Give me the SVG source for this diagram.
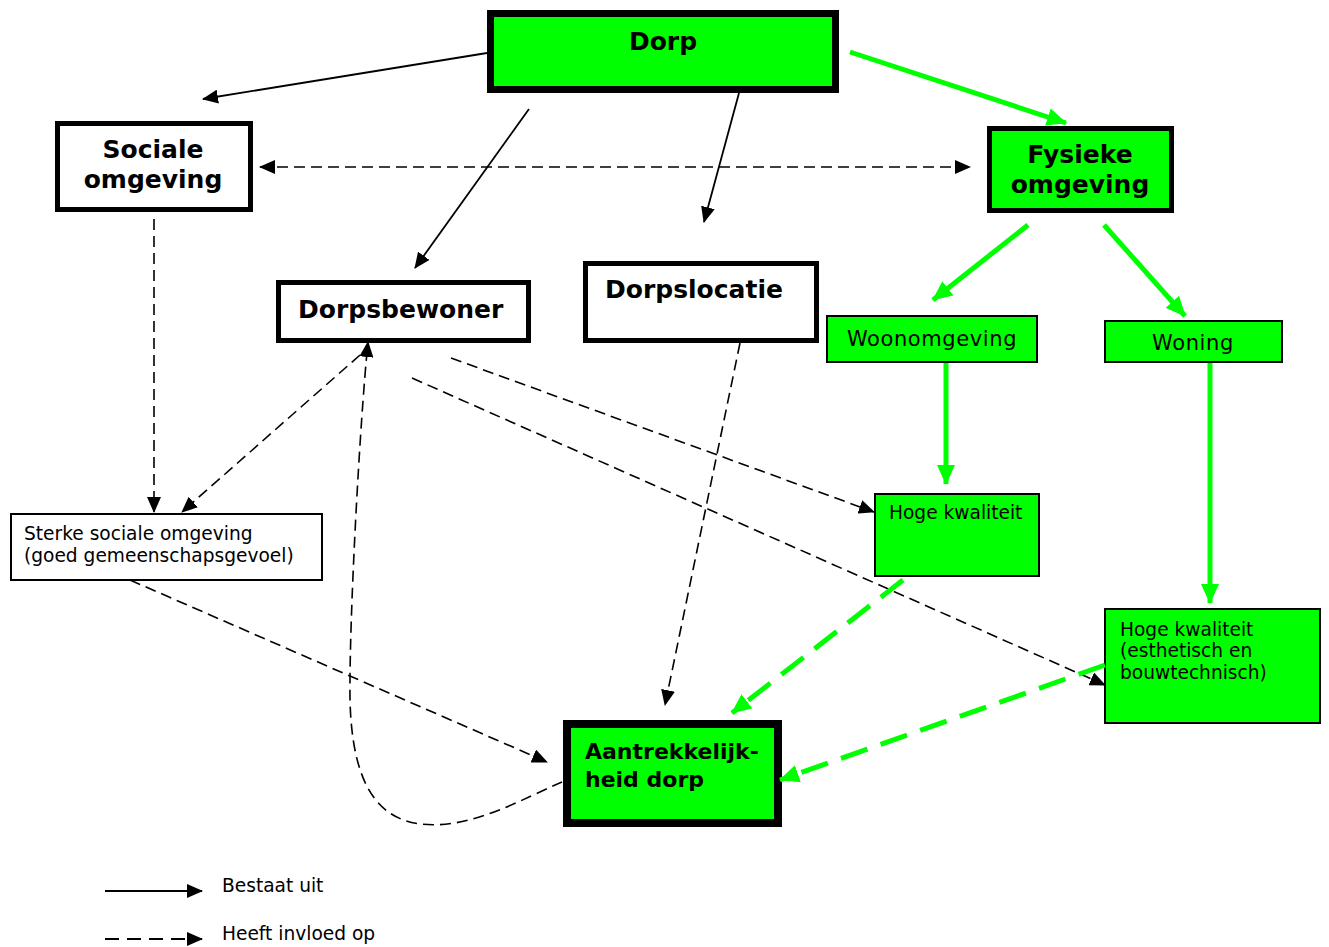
<svg xmlns="http://www.w3.org/2000/svg" width="1329" height="947" viewBox="0 0 1329 947">
<style>
.bg{fill:#ffffff}
.g{fill:#00ff00}
.w{fill:#ffffff}
.box{stroke:#000000}
.t{font-family:"DejaVu Sans","Liberation Sans",sans-serif;fill:#000000}
.h{font-weight:bold;font-size:25px}
.hs{font-weight:bold;font-size:22px}
.r{font-size:18.6px}
.rl{font-size:21px;letter-spacing:0.6px}
.solid{stroke:#000000;stroke-width:1.8;fill:none}
.dash{stroke:#000000;stroke-width:1.6;fill:none;stroke-dasharray:11 6}
.ldash{stroke:#000000;stroke-width:2;fill:none;stroke-dasharray:14 8}
.gs{stroke:#00ff00;stroke-width:5;fill:none}
.gd{stroke:#00ff00;stroke-width:5;fill:none;stroke-dasharray:28 14}
</style>
<defs>
<marker id="ab" markerUnits="userSpaceOnUse" markerWidth="16" markerHeight="14" refX="15" refY="7" orient="auto-start-reverse" viewBox="0 0 16 14">
<path d="M0,0 L16,7 L0,14 z" fill="#000000"/>
</marker>
<marker id="ag" markerUnits="userSpaceOnUse" markerWidth="20" markerHeight="18" refX="19" refY="9" orient="auto" viewBox="0 0 20 18">
<path d="M0,0 L20,9 L0,18 z" fill="#00ff00"/>
</marker>
</defs>
<rect class="bg" x="0" y="0" width="1329" height="947"/>

<g id="node-dorp">
<rect class="g box" x="490.5" y="13.5" width="345" height="76" stroke-width="7"/>
<text class="t h" x="663" y="50" text-anchor="middle">Dorp</text>
</g>
<g id="node-sociale">
<rect class="w box" x="57.5" y="123.5" width="193" height="86" stroke-width="5"/>
<text class="t h" x="153" y="158" text-anchor="middle">Sociale</text>
<text class="t h" x="153" y="188" text-anchor="middle">omgeving</text>
</g>
<g id="node-fysieke">
<rect class="g box" x="989.5" y="128.5" width="182" height="82" stroke-width="5"/>
<text class="t h" x="1080" y="163" text-anchor="middle">Fysieke</text>
<text class="t h" x="1080" y="193" text-anchor="middle">omgeving</text>
</g>
<g id="node-dorpsbewoner">
<rect class="w box" x="278.5" y="282.5" width="250" height="58" stroke-width="5"/>
<text class="t h" x="298" y="318">Dorpsbewoner</text>
</g>
<g id="node-dorpslocatie">
<rect class="w box" x="585.5" y="263.5" width="231" height="77" stroke-width="5"/>
<text class="t h" x="605" y="298">Dorpslocatie</text>
</g>
<g id="node-woonomgeving">
<rect class="g box" x="827" y="316" width="210" height="46" stroke-width="2"/>
<text class="t rl" x="932" y="346" text-anchor="middle">Woonomgeving</text>
</g>
<g id="node-woning">
<rect class="g box" x="1105" y="321" width="177" height="41" stroke-width="2"/>
<text class="t rl" x="1193" y="350" text-anchor="middle">Woning</text>
</g>
<g id="node-sterke">
<rect class="w box" x="11" y="514" width="311" height="66" stroke-width="2"/>
<text class="t r" x="24" y="540">Sterke sociale omgeving</text>
<text class="t r" x="24" y="562">(goed gemeenschapsgevoel)</text>
</g>
<g id="node-hoge1">
<rect class="g box" x="875" y="494" width="164" height="82" stroke-width="2"/>
<text class="t r" x="889" y="519">Hoge kwaliteit</text>
</g>
<g id="node-hoge2">
<rect class="g box" x="1105" y="609" width="215" height="114" stroke-width="2"/>
<text class="t r" x="1120" y="636">Hoge kwaliteit</text>
<text class="t r" x="1120" y="657">(esthetisch en</text>
<text class="t r" x="1120" y="679">bouwtechnisch)</text>
</g>
<g id="node-aantrekkelijkheid">
<rect class="g box" x="567" y="724" width="211" height="99" stroke-width="8"/>
<text class="t hs" x="585" y="759">Aantrekkelijk-</text>
<text class="t hs" x="585" y="787">heid dorp</text>
</g>

<g id="connectors">
<line class="solid" x1="487" y1="53" x2="203" y2="99" marker-end="url(#ab)"/>
<line class="solid" x1="529" y1="109" x2="415" y2="268" marker-end="url(#ab)"/>
<line class="solid" x1="739" y1="93" x2="704" y2="222" marker-end="url(#ab)"/>
<line class="gs" x1="850" y1="52" x2="1066" y2="123" marker-end="url(#ag)"/>
<line class="dash" x1="260" y1="167" x2="970" y2="167" marker-start="url(#ab)" marker-end="url(#ab)"/>
<line class="dash" x1="154" y1="219" x2="154" y2="512" marker-end="url(#ab)"/>
<line class="dash" x1="360" y1="355" x2="182" y2="512" marker-end="url(#ab)"/>
<line class="dash" x1="451" y1="358" x2="874" y2="512" marker-end="url(#ab)"/>
<line class="dash" x1="412" y1="378" x2="1105" y2="685" marker-end="url(#ab)"/>
<line class="dash" x1="740" y1="343" x2="665" y2="705" marker-end="url(#ab)"/>
<line class="dash" x1="130" y1="580" x2="547" y2="762" marker-end="url(#ab)"/>
<path class="dash" d="M562,782 C520,800 470,830 420,824 C375,818 352,780 350,700 C349,620 360,420 368,342" marker-end="url(#ab)"/>
<line class="gs" x1="1028" y1="225" x2="933" y2="300" marker-end="url(#ag)"/>
<line class="gs" x1="1104" y1="225" x2="1185" y2="316" marker-end="url(#ag)"/>
<line class="gs" x1="946" y1="363" x2="946" y2="484" marker-end="url(#ag)"/>
<line class="gs" x1="1210" y1="363" x2="1210" y2="603" marker-end="url(#ag)"/>
<line class="gd" x1="903" y1="580" x2="732" y2="713" marker-end="url(#ag)"/>
<line class="gd" x1="1105" y1="665" x2="780" y2="780" marker-end="url(#ag)"/>
</g>

<g id="legend">
<line class="solid" x1="105" y1="891" x2="202" y2="891" stroke-width="2" marker-end="url(#ab)"/>
<line class="ldash" x1="105" y1="939" x2="202" y2="939" marker-end="url(#ab)"/>
<text class="t r" x="222" y="892">Bestaat uit</text>
<text class="t r" x="222" y="940">Heeft invloed op</text>
</g>
</svg>
